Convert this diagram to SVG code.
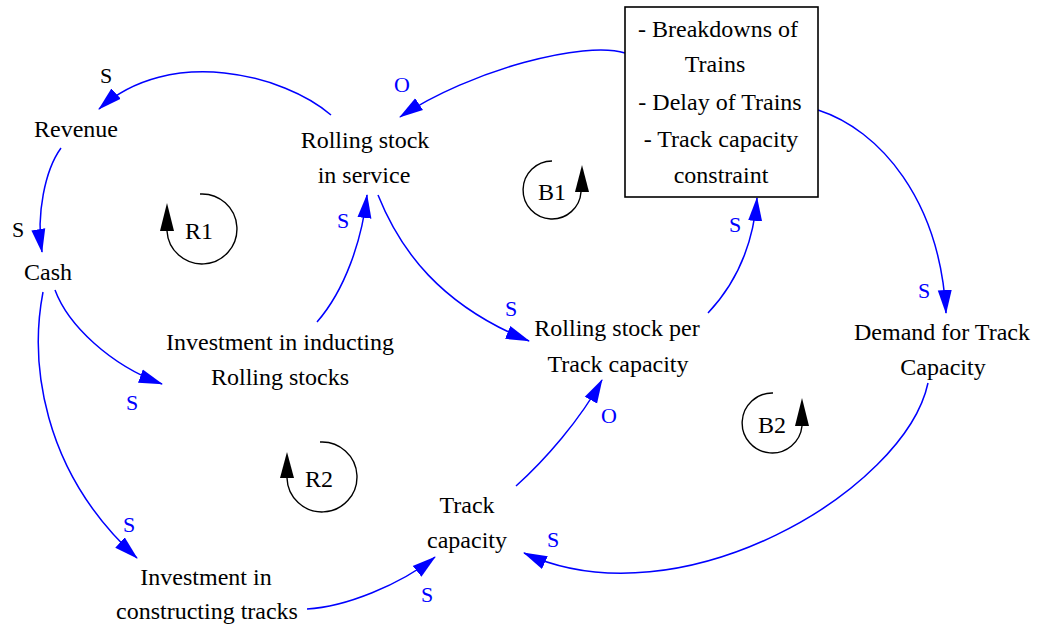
<svg xmlns="http://www.w3.org/2000/svg" width="1041" height="627" viewBox="0 0 1041 627">
<style>
  text { font-family: 'Liberation Serif', 'DejaVu Serif', serif; }
  .t { font-size: 24px; fill: #000; text-anchor: middle; }
  .pol { font-size: 22px; fill: #0000FF; text-anchor: middle; }
  .polk { font-size: 22px; fill: #000; text-anchor: middle; }
  .c { fill: none; stroke: #0000FF; stroke-width: 1.5; marker-end: url(#ah); }
  .loop { fill: none; stroke: #000; stroke-width: 1.4; }
  .loopa { fill: #000; }
  .box { fill: #fff; stroke: #000; stroke-width: 1.6; }
</style>
<defs>
  <marker id="ah" markerUnits="userSpaceOnUse" markerWidth="24" markerHeight="16" viewBox="0 0 24 16" refX="23" refY="8" orient="auto">
    <path d="M0,1 L24,8 L0,15 z" fill="#0000FF"/>
  </marker>
</defs>
<rect width="1041" height="627" fill="#fff"/>

<g id="connectors">
  <path class="c" d="M331,115 C285,75 170,45 99,109"/>
  <path class="c" d="M61,148 C45,170 36,215 42,252"/>
  <path class="c" d="M55,290 C68,325 110,365 162,384"/>
  <path class="c" d="M43,292 C30,360 40,470 137,558"/>
  <path class="c" d="M307,609 C345,607 400,585 435,557"/>
  <path class="c" d="M317,322 C345,290 362,240 367,195"/>
  <path class="c" d="M378,195 C400,250 440,305 529,341"/>
  <path class="c" d="M516,486 C545,460 580,420 602,380"/>
  <path class="c" d="M708,313 C725,295 752,260 757,198"/>
  <path class="c" d="M625,53 C585,40 470,70 400,117"/>
  <path class="c" d="M818,110 C880,130 940,200 946,313"/>
  <path class="c" d="M928,383 C905,490 680,625 524,553"/>
  <text class="polk" x="106" y="83" font-family="Liberation Serif, serif">S</text>
  <text class="polk" x="18" y="237">S</text>
  <text class="pol" x="132" y="410">S</text>
  <text class="pol" x="129" y="532">S</text>
  <text class="pol" x="427" y="602">S</text>
  <text class="pol" x="343" y="228">S</text>
  <text class="pol" x="511" y="316">S</text>
  <text class="pol" x="609" y="423">O</text>
  <text class="pol" x="735" y="232">S</text>
  <text class="pol" x="402" y="92">O</text>
  <text class="pol" x="924" y="298">S</text>
  <text class="pol" x="553" y="547">S</text>
</g>

<g id="revenue"><text class="t" x="76" y="137">Revenue</text></g>
<g id="rolling-stock-in-service"><text class="t" x="365" y="148">Rolling stock</text><text class="t" x="364" y="183">in service</text></g>
<g id="cash"><text class="t" x="48" y="280">Cash</text></g>
<g id="investment-inducting"><text class="t" x="280" y="350">Investment in inducting</text><text class="t" x="280" y="385">Rolling stocks</text></g>
<g id="investment-constructing"><text class="t" x="206" y="585">Investment in</text><text class="t" x="207" y="619">constructing tracks</text></g>
<g id="rolling-stock-per-track-capacity"><text class="t" x="617" y="336">Rolling stock per</text><text class="t" x="618" y="372">Track capacity</text></g>
<g id="track-capacity"><text class="t" x="467" y="513">Track</text><text class="t" x="467" y="548">capacity</text></g>
<g id="demand"><text class="t" x="942" y="340">Demand for Track</text><text class="t" x="943" y="375">Capacity</text></g>
<g id="problems">
  <rect class="box" x="625" y="7" width="193" height="190"/>
  <text class="t" x="718" y="37">- Breakdowns of</text>
  <text class="t" x="715" y="72">Trains</text>
  <text class="t" x="720" y="110">- Delay of Trains</text>
  <text class="t" x="721" y="147">- Track capacity</text>
  <text class="t" x="721" y="183">constraint</text>
</g>

<g id="loop-R1">
  <path class="loop" d="M200,194 A35,35 0 1 1 167,231"/>
  <polygon class="loopa" points="167,203 160,231 174,231"/>
  <text class="t" x="199" y="239">R1</text>
</g>
<g id="loop-R2">
  <path class="loop" d="M320,442 A35,35 0 1 1 287,478"/>
  <polygon class="loopa" points="287,452 280,478 294,478"/>
  <text class="t" x="319" y="487">R2</text>
</g>
<g id="loop-B1">
  <path class="loop" d="M552,161 A29,29 0 1 0 581,192"/>
  <polygon class="loopa" points="582,165 575,192 589,192"/>
  <text class="t" x="552" y="200">B1</text>
</g>
<g id="loop-B2">
  <path class="loop" d="M773,393 A30,30 0 1 0 802,426"/>
  <polygon class="loopa" points="802,398 795,426 809,426"/>
  <text class="t" x="772" y="433">B2</text>
</g>
</svg>
